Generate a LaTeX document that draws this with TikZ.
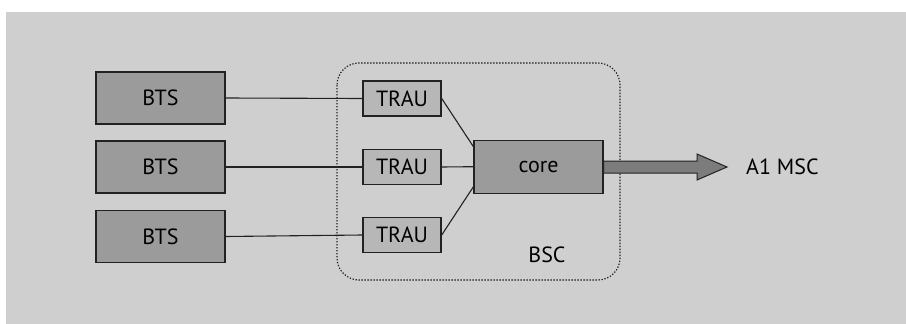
\documentclass[tikz,border=0pt]{standalone}
\usepackage{fontspec}
\setmainfont{PT Sans}
\definecolor{bg}{HTML}{CFCFCF}
\definecolor{darkbox}{HTML}{9B9B9B}
\definecolor{lightbox}{HTML}{B7B7B7}
\definecolor{arrowfill}{HTML}{7C7C7C}
\definecolor{edge}{HTML}{222222}
\tikzset{
  txt/.style={font=\fontsize{22}{24}\selectfont},
  btsbox/.style={draw=edge, line width=1.4pt, fill=darkbox, minimum width=129pt, minimum height=52pt, inner sep=0pt, txt},
  traubox/.style={draw=edge, line width=1.4pt, fill=lightbox, minimum width=78pt, minimum height=35pt, inner sep=0pt, txt},
  corebox/.style={draw=edge, line width=1.4pt, fill=darkbox, minimum width=129pt, minimum height=53pt, inner sep=0pt, txt},
  link/.style={draw=edge, line width=1.1pt},
  lbl/.style={txt, inner sep=0pt},
}
\begin{document}
\begin{tikzpicture}[x=1pt, y=-1pt]
\useasboundingbox (0,0) rectangle (906,324);
\fill[bg] (6,12) rectangle (906,324);
% BSC dotted container
\draw[edge, line width=1.2pt, dash pattern=on 1.3pt off 1.7pt, rounded corners=22pt] (337,63) rectangle (620,280);
\node[lbl] (bsc) at (547,255) {BSC};
% BTS
\node[btsbox] (bts1) at (160.5,98) {BTS};
\node[btsbox] (bts2) at (160.5,167) {BTS};
\node[btsbox] (bts3) at (160.5,236.5) {BTS};
% TRAU
\node[traubox] (trau1) at (402,98.5) {TRAU};
\node[traubox] (trau2) at (402,167) {TRAU};
\node[traubox] (trau3) at (402,235) {TRAU};
% core
\node[corebox] (core) at (538.5,166.7) {core};
% links
\draw[link] (bts1.east) -- (trau1.west);
\draw[link] (bts2.east) -- (trau2.west);
\draw[link] (bts3.east) -- (trau3.west);
\coordinate (c1) at ([yshift=-7pt]core.north west);
\coordinate (c3) at ([yshift=7pt]core.south west);
\draw[link] (trau1.east) -- (c1);
\draw[link] (trau2.east) -- (core.west);
\draw[link] (trau3.east) -- (c3);
% thick arrow
\node[lbl, anchor=west] (msc) at (746,167) {A1 MSC};
\coordinate (tip) at (727,167);
\draw[edge, line width=1pt, fill=arrowfill]
  (core.east |- 0,161) -- (697,161) -- (697,154) -- (tip) -- (697,180) -- (697,173) -- (core.east |- 0,173) -- cycle;
\end{tikzpicture}
\end{document}
